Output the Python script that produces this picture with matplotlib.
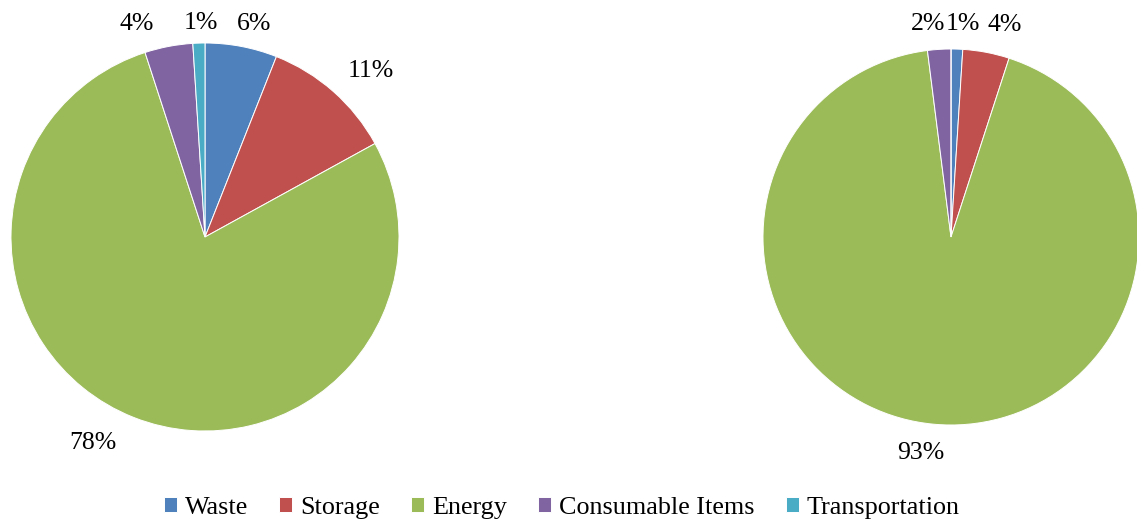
import numpy as np
import matplotlib.pyplot as plt

plt.rcParams['font.family'] = ['Liberation Serif', 'DejaVu Serif']

categories = ['Waste', 'Storage', 'Energy', 'Consumable Items', 'Transportation']
colors = ['#4F81BD', '#C0504D', '#9BBB59', '#8064A2', '#4BACC6']

share_a = [6, 11, 78, 4, 1]
share_b = [1, 4, 93, 2, 0]

# label placement: (radius, angle nudge in degrees) relative to each wedge's middle
label_place_a = [(1.125, -2.3), (1.21, -3.6), (1.21, -6.8), (1.155, 6.9), (1.105, -0.8)]
label_place_b = [(1.135, -1.3), (1.165, -3.5), (1.16, -2.6), (1.14, 2.6), (1.15, 0)]


def draw_pie(ax, values, places):
    wedges, _ = ax.pie(values, colors=colors, startangle=90, counterclock=False,
                       wedgeprops=dict(edgecolor='white', linewidth=0.7))
    for w, v, (r, nudge) in zip(wedges, values, places):
        if v == 0:
            continue
        ang = np.deg2rad((w.theta1 + w.theta2) / 2 + nudge)
        ax.text(r * np.cos(ang), r * np.sin(ang), '%d%%' % v, ha='center',
                va='center', fontsize=18.5, clip_on=False)
    ax.set_xlim(-1, 1)
    ax.set_ylim(-1, 1)
    ax.set_aspect('equal')
    return wedges


W, H = 1137, 529
fig = plt.figure(figsize=(W / 100, H / 100), dpi=100)

# left pie: centre (205, 237) px, radius 194 px
ax1 = fig.add_axes([(205 - 194) / W, (H - 237 - 194) / H, 388 / W, 388 / H])
wedges = draw_pie(ax1, share_a, label_place_a)

# right pie: centre (951, 237) px, radius 188 px
ax2 = fig.add_axes([(951 - 188) / W, (H - 237 - 188) / H, 376 / W, 376 / H])
draw_pie(ax2, share_b, label_place_b)

fig.legend(wedges, categories, loc='center', bbox_to_anchor=(0.494, 0.04),
           ncol=5, frameon=False, fontsize=18.8, handlelength=0.5,
           handleheight=0.5, handletextpad=0.3, columnspacing=1.2)

fig.savefig('out.png', dpi=100)
